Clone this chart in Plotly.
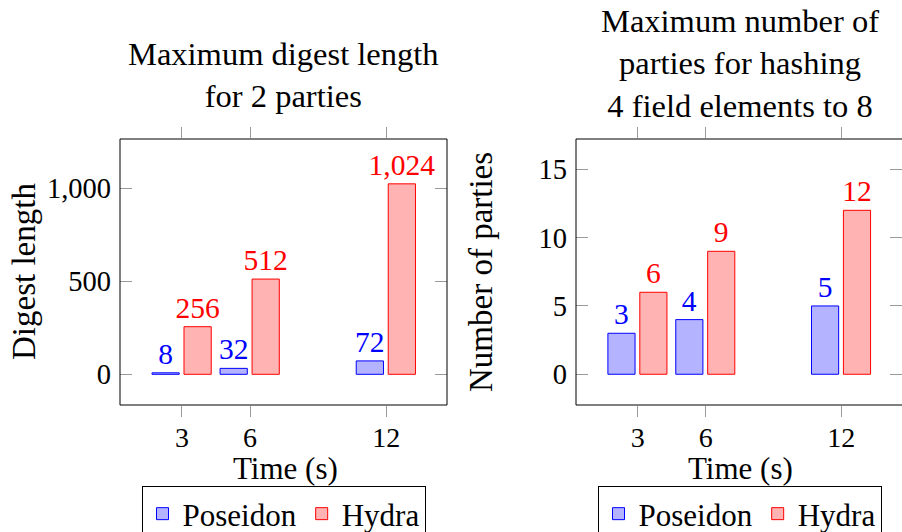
import plotly.graph_objects as go

W, H = 902, 532

times = [3, 6, 12]
digest_poseidon = [8, 32, 72]
digest_hydra = [256, 512, 1024]
parties_poseidon = [3, 4, 5]
parties_hydra = [6, 9, 12]

left_title = "Maximum digest length<br>for 2 parties"
right_title = "Maximum number of<br>parties for hashing<br>4 field elements to 8"
left_ylabel = "Digest length"
right_ylabel = "Number of parties"
xlabel = "Time (s)"
series_names = ["Poseidon", "Hydra"]

FONT = "Liberation Serif"
BLUE_FILL = "rgb(179,179,255)"
RED_FILL = "rgb(255,179,179)"
BLUE = "rgb(0,0,255)"
RED = "rgb(255,0,0)"
TICK_GRAY = "#9a9a9a"

def px(x):
    return x / W

def py(y):
    return 1 - y / H

BAR_W = 1.2
OFF_B = -1.32
OFF_R = 0.09

fig = go.Figure()

def add_pair(pos, hyd, xa, ya, legend):
    fig.add_trace(go.Bar(
        x=times, y=pos, name=series_names[0], width=BAR_W, offset=OFF_B,
        marker=dict(color=BLUE_FILL, line=dict(color=BLUE, width=1)),
        text=pos, texttemplate="%{y:,}", textposition="outside",
        textfont=dict(color=BLUE, size=29.5, family=FONT), constraintext="none",
        cliponaxis=False, xaxis=xa, yaxis=ya, legend=legend))
    fig.add_trace(go.Bar(
        x=times, y=hyd, name=series_names[1], width=BAR_W, offset=OFF_R,
        marker=dict(color=RED_FILL, line=dict(color=RED, width=1)),
        text=hyd, texttemplate="%{y:,}", textposition="outside",
        textfont=dict(color=RED, size=29.5, family=FONT), constraintext="none",
        cliponaxis=False, xaxis=xa, yaxis=ya, legend=legend))

add_pair(digest_poseidon, digest_hydra, "x", "y", "legend")
add_pair(parties_poseidon, parties_hydra, "x2", "y2", "legend2")

xcommon = dict(range=[0.27, 14.68], tickvals=times, ticks="outside", mirror="ticks",
               ticklen=11, tickcolor=TICK_GRAY, tickwidth=1, showline=False,
               showgrid=False, zeroline=False, ticklabelstandoff=-4,
               tickfont=dict(size=28, family=FONT, color="black"))
ycommon = dict(ticks="inside", mirror="ticks", ticklen=12, tickcolor=TICK_GRAY,
               tickwidth=1, showline=False, showgrid=False, zeroline=False,
               ticklabelstandoff=8, tickfont=dict(size=28.5, family=FONT, color="black"))

ydom = [py(405), py(139)]
fig.update_layout(
    width=W, height=H, margin=dict(l=0, r=0, t=0, b=0, autoexpand=False),
    paper_bgcolor="white", plot_bgcolor="white", barmode="overlay",
    font=dict(family=FONT, color="black"),
    xaxis=dict(domain=[px(120), px(447)], anchor="y", **xcommon),
    yaxis=dict(domain=ydom, anchor="x", range=[-165, 1265], tickvals=[0, 500, 1000],
               tickformat=",d", **ycommon),
    xaxis2=dict(domain=[px(576), 1.0], anchor="y2", **xcommon),
    yaxis2=dict(domain=ydom, anchor="x2", range=[-2.25, 17.22], tickvals=[0, 5, 10, 15],
                **ycommon),
    legend=dict(orientation="h", x=px(283.5), xanchor="center", y=py(486), yanchor="top",
                bordercolor="black", borderwidth=1, font=dict(size=31, family=FONT),
                bgcolor="white"),
    legend2=dict(orientation="h", x=px(739.5), xanchor="center", y=py(486), yanchor="top",
                 bordercolor="black", borderwidth=1, font=dict(size=31, family=FONT),
                 bgcolor="white"),
)

# plot frames
fig.add_shape(type="rect", xref="x domain", yref="y domain", x0=0, x1=1, y0=0, y1=1,
              line=dict(color="black", width=1), layer="above")
fig.add_shape(type="rect", xref="x2 domain", yref="y2 domain", x0=0, x1=1.003, y0=0, y1=1,
              line=dict(color="black", width=1), layer="above")

ann = [
    dict(text=left_title, x=px(283.5), y=py(74.5), yanchor="middle", size=32.5),
    dict(text=right_title, x=px(739.5), y=py(63), yanchor="middle", size=32.5),
    dict(text=xlabel, x=px(285), y=py(468), yanchor="middle", size=31),
    dict(text=xlabel, x=px(740), y=py(468), yanchor="middle", size=31),
]
for a in ann:
    fig.add_annotation(text=a["text"], x=a["x"], y=a["y"], xref="paper", yref="paper",
                       xanchor="center", yanchor=a["yanchor"], showarrow=False,
                       font=dict(size=a["size"], family=FONT, color="black"))
for t, xx in [(left_ylabel, 24), (right_ylabel, 481)]:
    fig.add_annotation(text=t, x=px(xx), y=py(272), xref="paper", yref="paper",
                       xanchor="center", yanchor="middle", textangle=-90, showarrow=False,
                       font=dict(size=33, family=FONT, color="black"))

page_fix = (
    "document.documentElement.style.margin='0';"
    "document.documentElement.style.overflow='hidden';"
    "document.body.style.margin='0';"
    "document.body.style.overflow='hidden';"
)
fig.write_html("out.html", config={"displayModeBar": False}, post_script=page_fix)
